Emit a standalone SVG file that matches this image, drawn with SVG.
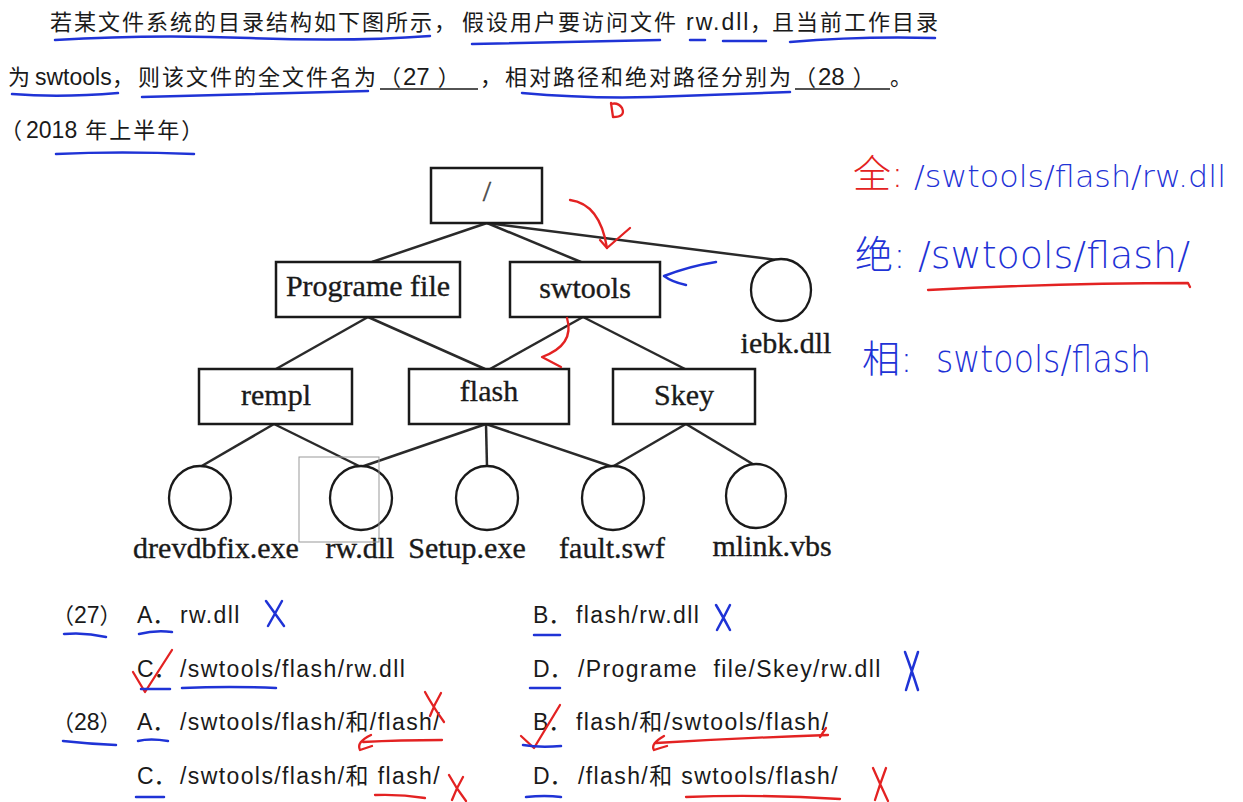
<svg xmlns="http://www.w3.org/2000/svg" width="1243" height="802" viewBox="0 0 1243 802">
<style>
.q{font-family:"Liberation Sans","Noto Sans CJK SC",sans-serif;font-size:23px;fill:#1a1a1a}
.c{font-family:"Noto Sans CJK SC",sans-serif;font-size:22px;letter-spacing:2px;fill:#1a1a1a}
.o{font-family:"Liberation Sans","Noto Sans CJK SC",sans-serif;font-size:23px;letter-spacing:1.4px;fill:#1a1a1a}
.t{font-family:"Liberation Serif",serif;font-size:30px;fill:#1a1a1a;stroke:#1a1a1a;stroke-width:0.35;text-anchor:middle}
.box{fill:#fff;stroke:#1a1a1a;stroke-width:2.5}
.leaf{fill:#fff;stroke:#1a1a1a;stroke-width:2.3}
.ln{stroke:#2a2a2a;stroke-width:2.5;fill:none}
.bl{stroke:#1f33d6;stroke-width:2.5;fill:none;stroke-linecap:round;stroke-linejoin:round}
.rd{stroke:#e32222;stroke-width:2.3;fill:none;stroke-linecap:round;stroke-linejoin:round}
.hb{font-family:"DejaVu Sans","Noto Sans CJK SC",sans-serif;font-weight:200;font-size:38px;fill:#1f33d6}
.hr{font-family:"DejaVu Sans","Noto Sans CJK SC",sans-serif;font-weight:200;font-size:38px;fill:#e32222}
</style>
<rect width="1243" height="802" fill="#fff"/>

<!-- Question text -->
<g id="question">
<text class="c" x="50" y="30">若某文件系统的目录结构如下图所示，</text>
<text class="c" x="462" y="30">假设用户要访问文件</text>
<text class="q" x="686" y="30" letter-spacing="2">rw.dll</text>
<text class="c" x="750" y="30">，</text>
<text class="c" x="772" y="30">且当前工作目录</text>

<text class="c" x="8" y="85">为</text>
<text class="q" x="35" y="85">swtools</text>
<text class="c" x="112" y="85">，</text>
<text class="c" x="138" y="85">则该文件的全文件名为</text>
<text class="c" x="379" y="85">（<tspan class="q" style="font-size:24px;letter-spacing:0">27</tspan><tspan dx="8">）</tspan></text>
<text class="c" x="480" y="85">，</text>
<text class="c" x="505" y="85">相对路径和绝对路径分别为</text>
<text class="c" x="794" y="85">（<tspan class="q" style="font-size:24px;letter-spacing:0">28</tspan><tspan dx="8">）</tspan></text>
<text class="c" x="890" y="85">。</text>
<line x1="380" y1="89" x2="478" y2="89" stroke="#1a1a1a" stroke-width="1.5"/>
<line x1="795" y1="89" x2="890" y2="89" stroke="#1a1a1a" stroke-width="1.5"/>

<text class="c" x="0" y="138">（<tspan class="q" style="letter-spacing:0" dx="2">2018</tspan><tspan dx="8">年上半年）</tspan></text>
</g>

<!-- Handwritten underlines on question -->
<g id="question-marks">
<path class="bl" d="M55 40 Q150 34 250 38 Q350 42 430 36"/>
<path class="bl" d="M472 44 Q570 42 660 40"/>
<path class="bl" d="M690 40 L705 40"/>
<path class="bl" d="M723 41 L766 41"/>
<path class="bl" d="M790 42 Q860 36 935 38"/>
<path class="bl" d="M12 94 Q60 98 118 93"/>
<path class="bl" d="M142 97 Q250 94 368 91"/>
<path class="bl" d="M522 93 Q600 100 680 96 Q740 94 790 92"/>
<path class="bl" d="M56 154 Q120 151 194 154"/>
<path class="rd" d="M611 103 L613 117 Q626 117 622 108 Q618 102 611 104"/>
</g>

<!-- Connectors -->
<g id="connectors">
<line class="ln" x1="487" y1="223" x2="372" y2="262"/>
<line class="ln" x1="487" y1="223" x2="581" y2="262"/>
<line class="ln" x1="487" y1="223" x2="777" y2="260"/>
<line class="ln" x1="368" y1="317" x2="276" y2="369"/>
<line class="ln" x1="368" y1="317" x2="485" y2="369"/>
<line class="ln" x1="583" y1="317" x2="490" y2="369"/>
<line class="ln" x1="583" y1="317" x2="685" y2="369"/>
<line class="ln" x1="274" y1="424" x2="200" y2="467"/>
<line class="ln" x1="274" y1="424" x2="361" y2="467"/>
<line class="ln" x1="486" y1="424" x2="361" y2="467"/>
<line class="ln" x1="486" y1="424" x2="487" y2="467"/>
<line class="ln" x1="486" y1="424" x2="613" y2="467"/>
<line class="ln" x1="686" y1="424" x2="612" y2="467"/>
<line class="ln" x1="686" y1="424" x2="756" y2="466"/>
</g>

<!-- Nodes -->
<g id="node-root"><rect class="box" x="431" y="168" width="111" height="55"/><text class="t" x="487" y="201" style="fill:#555">/</text></g>
<g id="node-programe"><rect class="box" x="276" y="262" width="184" height="55"/><text class="t" x="368" y="296">Programe file</text></g>
<g id="node-swtools"><rect class="box" x="510" y="262" width="150" height="55"/><text class="t" x="585" y="298">swtools</text></g>
<g id="node-iebk"><ellipse class="leaf" cx="781" cy="290" rx="30" ry="31"/><text class="t" x="786" y="353">iebk.dll</text></g>
<g id="node-rempl"><rect class="box" x="199" y="369" width="153" height="55"/><text class="t" x="276" y="405">rempl</text></g>
<g id="node-flash"><rect class="box" x="409" y="369" width="160" height="55"/><text class="t" x="489" y="401">flash</text></g>
<g id="node-skey"><rect class="box" x="613" y="369" width="142" height="55"/><text class="t" x="684" y="405">Skey</text></g>
<g id="node-drevdbfix"><ellipse class="leaf" cx="200" cy="498" rx="31" ry="32"/><text class="t" x="216" y="558">drevdbfix.exe</text></g>
<g id="node-rwdll"><ellipse class="leaf" cx="361" cy="498" rx="31" ry="32"/><text class="t" x="360" y="558">rw.dll</text></g>
<g id="node-setup"><ellipse class="leaf" cx="487" cy="498" rx="31" ry="32"/><text class="t" x="467" y="558">Setup.exe</text></g>
<g id="node-fault"><ellipse class="leaf" cx="613" cy="498" rx="31" ry="32"/><text class="t" x="612" y="558">fault.swf</text></g>
<g id="node-mlink"><ellipse class="leaf" cx="756" cy="496" rx="30" ry="32"/><text class="t" x="772" y="556">mlink.vbs</text></g>
<rect x="299" y="457" width="80" height="85" fill="none" stroke="#999" stroke-width="1"/>

<!-- Tree annotations -->
<g id="tree-marks">
<path class="rd" d="M570 200 Q600 204 607 248"/>
<path class="rd" d="M600 240 L607 248 L630 228"/>
<path class="bl" d="M716 262 Q690 266 664 276 Q672 282 686 285"/>
<path class="rd" d="M567 318 Q575 345 542 357 L561 367"/>
</g>

<!-- Handwritten answers -->
<g id="handwriting">
<text class="hr" x="853" y="187">全:</text>
<text class="hb" x="914" y="187" style="font-size:31px" textLength="312" lengthAdjust="spacingAndGlyphs">/swtools/flash/rw.dll</text>
<text class="hb" x="855" y="268">绝:</text>
<text class="hb" x="918" y="268" textLength="272" lengthAdjust="spacingAndGlyphs">/swtools/flash/</text>
<path class="rd" d="M928 290 Q1060 283 1188 283 L1190 287"/>
<text class="hb" x="862" y="372">相:</text>
<text class="hb" x="936" y="372" textLength="215" lengthAdjust="spacingAndGlyphs">swtools/flash</text>
</g>

<!-- Options -->
<g id="options">
<text class="c" x="52" y="623">（<tspan class="q" dx="-2" style="letter-spacing:0">27</tspan>）</text>
<text class="q" x="137" y="623">A．</text><text class="o" x="180" y="623">rw.dll</text>
<text class="q" x="533" y="623">B．</text><text class="o" x="576" y="623">flash/rw.dll</text>

<text class="q" x="137" y="677">C．</text><text class="o" x="180" y="677">/swtools/flash/rw.dll</text>
<text class="q" x="533" y="677">D．</text><text class="o" x="578" y="677" xml:space="preserve">/Programe  file/Skey/rw.dll</text>

<text class="c" x="52" y="730">（<tspan class="q" dx="-2" style="letter-spacing:0">28</tspan>）</text>
<text class="q" x="137" y="730">A．</text><text class="o" x="180" y="730">/swtools/flash/和/flash/</text>
<text class="q" x="533" y="730">B．</text><text class="o" x="576" y="730">flash/和/swtools/flash/</text>

<text class="q" x="137" y="784">C．</text><text class="o" x="180" y="784">/swtools/flash/和 flash/</text>
<text class="q" x="533" y="784">D．</text><text class="o" x="578" y="784">/flash/和 swtools/flash/</text>
</g>

<!-- Option annotations -->
<g id="option-marks">
<path class="bl" d="M64 634 Q85 632 106 637"/>
<path class="bl" d="M139 634 Q155 630 172 632"/>
<path class="bl" d="M266 601 L284 626 M282 601 L268 626"/>
<path class="bl" d="M534 635 L560 635"/>
<path class="bl" d="M716 605 Q722 615 730 630 M730 605 Q724 617 717 630"/>
<path class="rd" d="M133 672 L145 692 L172 650"/>
<path class="bl" d="M141 689 L170 689"/>
<path class="bl" d="M182 688 Q230 686 276 688"/>
<path class="bl" d="M530 688 L560 688"/>
<path class="bl" d="M905 652 Q911 668 918 690 M918 652 Q912 670 906 690"/>

<path class="bl" d="M63 741 Q90 744 116 745"/>
<path class="bl" d="M138 741 Q150 738 168 741"/>
<path class="rd" d="M425 692 Q432 705 444 722 M441 693 Q434 705 430 716"/>
<path class="rd" d="M442 740 Q400 740 363 742 M371 735 Q356 742 360 750 Q366 748 372 746"/>
<path class="rd" d="M521 736 L534 748 L560 705"/>
<path class="bl" d="M523 745 Q540 748 561 746"/>
<path class="rd" d="M828 735 Q740 738 656 743 M664 736 Q650 744 654 750 Q660 748 667 746"/>
<path class="rd" d="M820 737 L826 728"/>

<path class="bl" d="M136 797 L164 797"/>
<path class="rd" d="M375 795 Q400 794 425 798"/>
<path class="rd" d="M449 775 Q456 788 466 801 M463 777 Q456 789 452 800"/>
<path class="bl" d="M526 797 Q545 795 561 797"/>
<path class="rd" d="M686 797 Q760 794 840 799"/>
<path class="rd" d="M873 768 Q880 784 888 801 M886 768 Q880 784 875 800"/>
</g>
</svg>
